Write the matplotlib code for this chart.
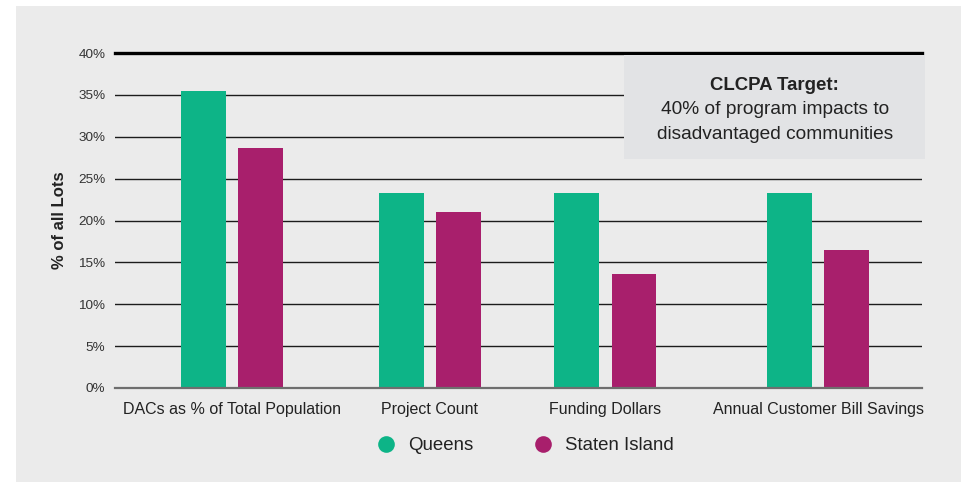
import matplotlib
matplotlib.use("Agg")
import matplotlib.pyplot as plt
from matplotlib.patches import Rectangle
from matplotlib.lines import Line2D
import numpy as np

plt.rcParams['font.family'] = ['Liberation Sans', 'DejaVu Sans']

# categories and series (% of all lots)
categories = ["DACs as % of Total Population", "Project Count",
              "Funding Dollars", "Annual Customer Bill Savings"]
queens = [35.5, 23.3, 23.3, 23.3]
staten_island = [28.6, 21.0, 13.6, 16.5]
series_names = ["Queens", "Staten Island"]
y_ticks = [0, 5, 10, 15, 20, 25, 30, 35, 40]

target_title = "CLCPA Target:"
target_text = "40% of program impacts to\ndisadvantaged communities"

GREEN = "#0db487"
MAGENTA = "#a81f6c"
BG = "#ebebeb"
BOX = "#e2e3e5"
TEXT = "#222222"

# group centres are not quite evenly spaced on the page
group_pos = np.array([0.0, 1.01, 1.91, 3.0])
bar_w = 0.23
offset = 0.146

W, H = 962, 482
fig = plt.figure(figsize=(W / 100, H / 100), dpi=100)
fig.patch.set_facecolor("white")
fig.patches.append(Rectangle((16 / W, 0), 1 - 16 / W, (H - 6) / H,
                             transform=fig.transFigure, facecolor=BG,
                             edgecolor="none", zorder=-10))

ax = fig.add_axes([115 / W, (H - 388) / H, (922 - 115) / W, (388 - 53) / H])
ax.set_facecolor("none")

for t in y_ticks:
    if t == 40:
        ax.axhline(t, color="black", lw=2.4, zorder=1, clip_on=False)
    elif t == 0:
        ax.axhline(t, color="#6e6e6e", lw=1.6, zorder=3, clip_on=False)
    else:
        ax.axhline(t, color="#1c1c1c", lw=1.0, zorder=1)

ax.bar(group_pos - offset, queens, bar_w, color=GREEN, zorder=2)
ax.bar(group_pos + offset, staten_island, bar_w, color=MAGENTA, zorder=2)

ax.set_xlim(-0.6, 3.53)
ax.set_ylim(0, 40)
ax.set_yticks(y_ticks)
ax.set_yticklabels([f"{t}%" for t in y_ticks], fontsize=9.7, color="#333333")
ax.set_xticks(group_pos)
ax.set_xticklabels(categories, fontsize=11.5, color=TEXT)
ax.tick_params(axis="both", length=0)
ax.tick_params(axis="y", pad=7)
ax.tick_params(axis="x", pad=10)
for s in ax.spines.values():
    s.set_visible(False)

ax.set_ylabel("% of all Lots", fontsize=12, fontweight="bold", color=TEXT,
              labelpad=8)

# target call-out box
ax.add_patch(Rectangle((0.631, 0.684), 0.373, 0.31, transform=ax.transAxes,
                       facecolor=BOX, edgecolor="none", zorder=4,
                       clip_on=False))
ax.text(0.8175, 0.904, target_title, transform=ax.transAxes, ha="center",
        va="center", fontsize=13.4, fontweight="bold", color=TEXT, zorder=5)
ax.text(0.8175, 0.793, target_text, transform=ax.transAxes, ha="center",
        va="center", fontsize=13.8, color=TEXT, linespacing=1.6, zorder=5)

handles = [Line2D([], [], marker="o", linestyle="none", markersize=12,
                  markerfacecolor=c, markeredgecolor="none")
           for c in (GREEN, MAGENTA)]
fig.legend(handles, series_names, loc="center", bbox_to_anchor=(0.541, 0.075),
           ncol=2, frameon=False, fontsize=13.4, handletextpad=0.2,
           columnspacing=2.75, labelcolor=TEXT)

fig.savefig("out.png", dpi=100)
